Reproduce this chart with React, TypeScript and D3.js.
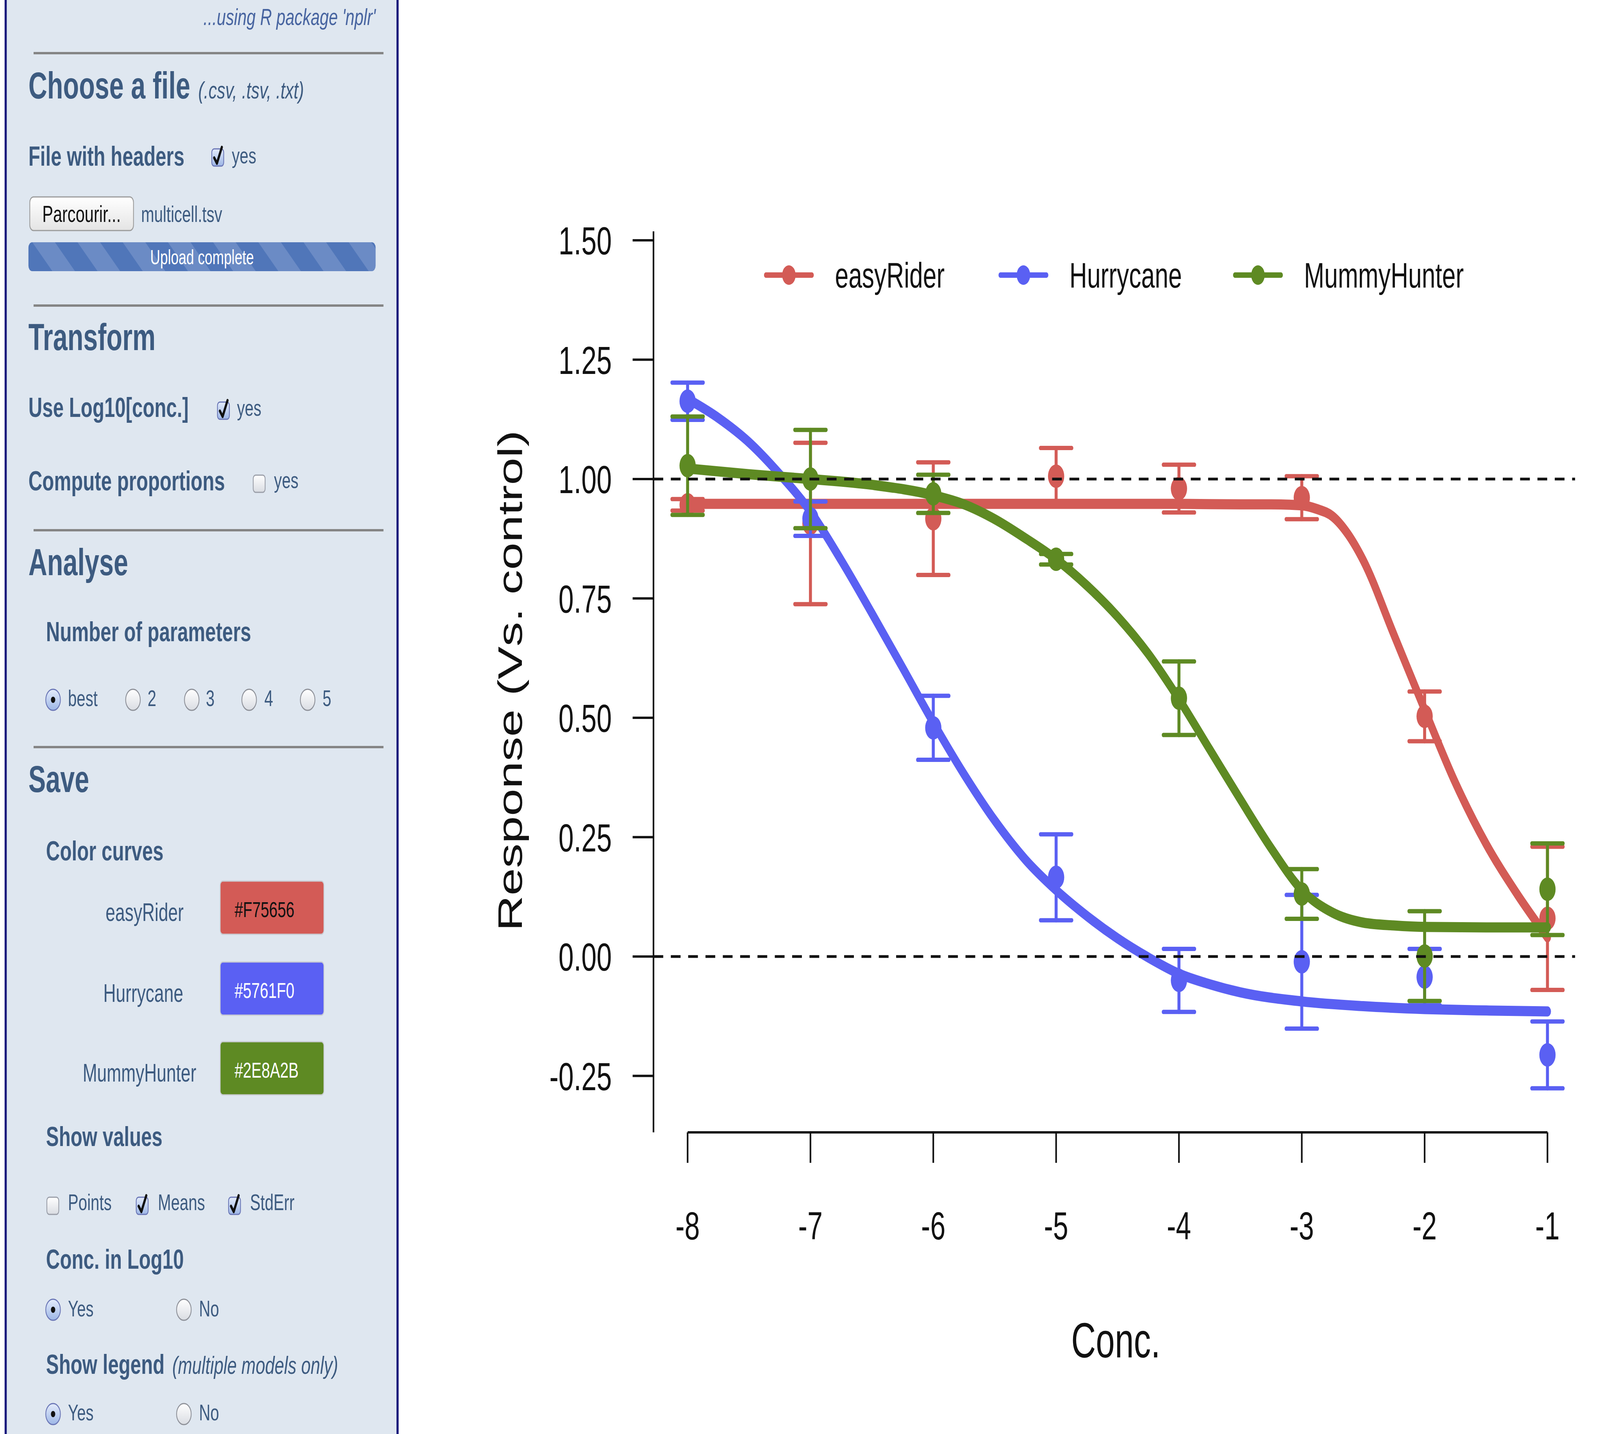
import React from 'react';
import * as d3 from 'd3';

// ---------------- DATA ----------------
const concLevels = [-8, -7, -6, -5, -4, -3, -2, -1];
const responseTicks = [-0.25, 0, 0.25, 0.5, 0.75, 1.0, 1.25, 1.5];
const referenceLines = [0, 1];
const modelNames = ['easyRider', 'Hurrycane', 'MummyHunter'];
const curveColors = ['#d35b56', '#5a60f3', '#5e8a23'];
const colorCodes = ['#F75656', '#5761F0', '#2E8A2B'];
const colorCodeText = ['#111111', '#ffffff', '#ffffff'];

const easyRiderMeans = [0.946, 0.907, 0.917, 1.006, 0.980, 0.961, 0.503, 0.080];
const easyRiderSE = [0.012, 0.169, 0.118, 0.059, 0.050, 0.045, 0.052, 0.150];
const hurrycaneMeans = [1.163, 0.917, 0.479, 0.166, -0.050, -0.011, -0.043, -0.206];
const hurrycaneSE = [0.039, 0.036, 0.067, 0.090, 0.066, 0.140, 0.059, 0.070];
const mummyHunterMeans = [1.028, 1.000, 0.969, 0.832, 0.541, 0.131, 0.001, 0.141];
const mummyHunterSE = [0.103, 0.103, 0.040, 0.011, 0.077, 0.052, 0.094, 0.096];

const easyRiderFitX = [-8, -7.5, -7, -6.5, -6, -5.5, -5, -4.5, -4, -3.5, -3.25, -3, -2.875, -2.75, -2.625, -2.5, -2.25, -2, -1.75, -1.5, -1.25, -1];
const easyRiderFitY = [0.948, 0.948, 0.948, 0.948, 0.948, 0.948, 0.948, 0.948, 0.948, 0.947, 0.947, 0.945, 0.937, 0.922, 0.885, 0.830, 0.674, 0.517, 0.364, 0.236, 0.132, 0.040];
const hurrycaneFitX = [-8, -7.75, -7.5, -7.25, -7, -6.75, -6.5, -6.25, -6, -5.75, -5.5, -5.25, -5, -4.75, -4.5, -4.25, -4, -3.75, -3.5, -3, -2.5, -2, -1.5, -1];
const hurrycaneFitY = [1.168, 1.128, 1.077, 1.010, 0.932, 0.830, 0.719, 0.605, 0.490, 0.382, 0.285, 0.203, 0.139, 0.085, 0.038, -0.002, -0.036, -0.058, -0.075, -0.094, -0.104, -0.110, -0.113, -0.115];
const mummyHunterFitX = [-8, -7.5, -7, -6.5, -6, -5.75, -5.5, -5.25, -5, -4.75, -4.5, -4.25, -4, -3.75, -3.5, -3.25, -3, -2.75, -2.5, -2.25, -2, -1.5, -1];
const mummyHunterFitY = [1.022, 1.010, 1.000, 0.988, 0.966, 0.947, 0.916, 0.876, 0.832, 0.777, 0.712, 0.634, 0.539, 0.434, 0.329, 0.227, 0.139, 0.092, 0.071, 0.065, 0.062, 0.061, 0.061];

const nParamOptions = ['best', '2', '3', '4', '5'];
const showValueOptions = ['Points', 'Means', 'StdErr'];
const showValueChecked = [false, true, true];
const yesNoOptions = ['Yes', 'No'];

// ---------------- LAYOUT ----------------
const W = 5908;
const H = 3670;
const FONT = "'Liberation Sans', Arial, Helvetica, sans-serif";
const PANEL_TEXT = '#3d5b80';

const xScale = d3.scaleLinear().domain([-8, -1]).range([2539, 5714]);
const yScale = d3.scaleLinear().domain([0, 1]).range([2448, 1226]);
const plotLeft = 2413;
const plotRight = 5816;
const plotTop = 592;
const plotBottom = 2898;
const fmtY = (v: number) => d3.format('.2f')(v).replace('\u2212', '-');

const series = modelNames.map((name, i) => {
  const means = [easyRiderMeans, hurrycaneMeans, mummyHunterMeans][i];
  const se = [easyRiderSE, hurrycaneSE, mummyHunterSE][i];
  const fx = [easyRiderFitX, hurrycaneFitX, mummyHunterFitX][i];
  const fy = [easyRiderFitY, hurrycaneFitY, mummyHunterFitY][i];
  return {
    name,
    color: curveColors[i],
    points: concLevels.map((c, k) => ({ x: c, m: means[k], s: se[k] })),
    fit: fx.map((xv, k) => [xv, fy[k]] as [number, number]),
  };
});

const lineGen = d3
  .line<[number, number]>()
  .x((d) => xScale(d[0]))
  .y((d) => yScale(d[1]))
  .curve(d3.curveMonotoneX);

function CheckBox({ cx, cy, checked }: { cx: number; cy: number; checked: boolean }) {
  const s = 44;
  return (
    <g>
      <rect
        x={cx - s / 2}
        y={cy - s / 2}
        width={s}
        height={s}
        rx={9}
        fill={checked ? 'url(#ctlOn)' : 'url(#ctlOff)'}
        stroke={checked ? '#6a76b6' : '#9a9ea8'}
        strokeWidth={3}
      />
      {checked && (
        <path
          d={`M${cx - 13},${cy + 1} L${cx - 3},${cy + 15} L${cx + 15},${cy - 26}`}
          fill="none"
          stroke="#111"
          strokeWidth={8}
          strokeLinecap="round"
          strokeLinejoin="round"
        />
      )}
    </g>
  );
}

function Radio({ cx, cy, on }: { cx: number; cy: number; on: boolean }) {
  return (
    <g>
      <circle cx={cx} cy={cy} r={27} fill={on ? 'url(#ctlOn)' : 'url(#ctlOff)'} stroke={on ? '#6a76b6' : '#8e9199'} strokeWidth={3} />
      {on && <circle cx={cx} cy={cy} r={8} fill="#111" />}
    </g>
  );
}

function Panel() {
  const hrYs = [136, 782, 1357, 1912];
  const headStyle = { fontFamily: FONT, fontWeight: 700, fontSize: 96, fill: PANEL_TEXT } as const;
  const labStyle = { fontFamily: FONT, fontWeight: 700, fontSize: 71, fill: PANEL_TEXT } as const;
  const smallStyle = { fontFamily: FONT, fontSize: 58, fill: PANEL_TEXT } as const;
  const radioXs = [196, 491, 708, 920, 1136];
  const radioLabelXs = [251, 545, 760, 976, 1191];
  const cbXs = [195, 525, 866];
  const cbLabelXs = [251, 583, 923];
  const colorLabelCx = [534, 529, 515];
  const boxTops = [2255, 2462, 2666];
  const ynX = [196, 679];
  const ynLabelX = [251, 735];
  return (
    <g>
      <rect x={21} y={-30} width={1447} height={H + 60} fill="#dfe7f0" stroke="#1a1a7c" strokeWidth={8} />
      <text x={1387} y={64} textAnchor="end" fontFamily={FONT} fontStyle="italic" fontSize={60} fill="#4764a0">
        ...using R package 'nplr'
      </text>
      {hrYs.map((y) => (
        <line key={y} x1={124} x2={1416} y1={y} y2={y} stroke="#858585" strokeWidth={6} />
      ))}
      <text x={105} y={252} {...headStyle}>
        Choose a file
      </text>
      <text x={732} y={252} fontFamily={FONT} fontStyle="italic" fontSize={62} fill={PANEL_TEXT}>
        (.csv, .tsv, .txt)
      </text>
      <text x={105} y={424} {...labStyle}>
        File with headers
      </text>
      <CheckBox cx={804} cy={403} checked={true} />
      <text x={856} y={418} {...smallStyle}>
        yes
      </text>
      <rect x={110} y={504} width={383} height={86} rx={14} fill="url(#btnGrad)" stroke="#9c9c9c" strokeWidth={3} />
      <text x={301} y={568} textAnchor="middle" fontFamily={FONT} fontSize={60} fill="#111">
        Parcourir...
      </text>
      <text x={521} y={568} {...smallStyle}>
        multicell.tsv
      </text>
      <rect x={105} y={620} width={1282} height={74} rx={14} fill="url(#stripes)" />
      <text x={746} y={676} textAnchor="middle" fontFamily={FONT} fontSize={51} fill="#ffffff">
        Upload complete
      </text>
      <text x={105} y={896} {...headStyle}>
        Transform
      </text>
      <text x={105} y={1067} {...labStyle}>
        Use Log10[conc.]
      </text>
      <CheckBox cx={825} cy={1051} checked={true} />
      <text x={875} y={1064} {...smallStyle}>
        yes
      </text>
      <text x={105} y={1255} {...labStyle}>
        Compute proportions
      </text>
      <CheckBox cx={957} cy={1238} checked={false} />
      <text x={1012} y={1249} {...smallStyle}>
        yes
      </text>
      <text x={105} y={1472} {...headStyle}>
        Analyse
      </text>
      <text x={170} y={1641} {...labStyle}>
        Number of parameters
      </text>
      {nParamOptions.map((o, i) => (
        <g key={o}>
          <Radio cx={radioXs[i]} cy={1791} on={i === 0} />
          <text x={radioLabelXs[i]} y={1807} {...smallStyle}>
            {o}
          </text>
        </g>
      ))}
      <text x={105} y={2027} {...headStyle}>
        Save
      </text>
      <text x={170} y={2202} {...labStyle}>
        Color curves
      </text>
      {modelNames.map((m, i) => (
        <g key={m}>
          <text x={colorLabelCx[i]} y={boxTops[i] + 102} textAnchor="middle" fontFamily={FONT} fontSize={64} fill={PANEL_TEXT}>
            {m}
          </text>
          <rect x={813} y={boxTops[i]} width={383} height={136} rx={10} fill={curveColors[i]} stroke="#c9ccd2" strokeWidth={3} />
          <text x={866} y={boxTops[i] + 92} fontFamily={FONT} fontSize={56} fill={colorCodeText[i]}>
            {colorCodes[i]}
          </text>
        </g>
      ))}
      <text x={170} y={2933} {...labStyle}>
        Show values
      </text>
      {showValueOptions.map((o, i) => (
        <g key={o}>
          <CheckBox cx={cbXs[i]} cy={3086} checked={showValueChecked[i]} />
          <text x={cbLabelXs[i]} y={3097} {...smallStyle}>
            {o}
          </text>
        </g>
      ))}
      <text x={170} y={3247} {...labStyle}>
        Conc. in Log10
      </text>
      {yesNoOptions.map((o, i) => (
        <g key={'c' + o}>
          <Radio cx={ynX[i]} cy={3352} on={i === 0} />
          <text x={ynLabelX[i]} y={3369} {...smallStyle}>
            {o}
          </text>
        </g>
      ))}
      <text x={170} y={3516} {...labStyle}>
        Show legend
      </text>
      <text x={636} y={3516} fontFamily={FONT} fontStyle="italic" fontSize={63} fill={PANEL_TEXT}>
        (multiple models only)
      </text>
      {yesNoOptions.map((o, i) => (
        <g key={'l' + o}>
          <Radio cx={ynX[i]} cy={3619} on={i === 0} />
          <text x={ynLabelX[i]} y={3635} {...smallStyle}>
            {o}
          </text>
        </g>
      ))}
    </g>
  );
}

function Chart() {
  const legendX0 = 2828;
  const legendStep = 866;
  const legendY = 704;
  return (
    <g fontFamily={FONT}>
      {/* axes */}
      <line x1={plotLeft} x2={plotLeft} y1={plotTop} y2={plotBottom} stroke="#111" strokeWidth={6} />
      {responseTicks.map((t) => (
        <g key={t}>
          <line x1={plotLeft - 77} x2={plotLeft} y1={yScale(t)} y2={yScale(t)} stroke="#111" strokeWidth={6} />
          <text x={2259} y={yScale(t)} dy="0.36em" textAnchor="end" fontSize={101} fill="#111">
            {fmtY(t)}
          </text>
        </g>
      ))}
      <line x1={xScale(concLevels[0])} x2={xScale(concLevels[concLevels.length - 1])} y1={plotBottom} y2={plotBottom} stroke="#111" strokeWidth={6} />
      {concLevels.map((c) => (
        <g key={c}>
          <line x1={xScale(c)} x2={xScale(c)} y1={plotBottom} y2={plotBottom + 78} stroke="#111" strokeWidth={6} />
          <text x={xScale(c)} y={3172} textAnchor="middle" fontSize={101} fill="#111">
            {String(c)}
          </text>
        </g>
      ))}
      <text x={4120} y={3474} textAnchor="middle" fontSize={126} fill="#111">
        Conc.
      </text>
      <text transform="translate(1927,1742) rotate(-90)" textAnchor="middle" fontSize={126} fill="#111">
        Response (Vs. control)
      </text>

      {/* series */}
      {series.map((s) => (
        <g key={s.name}>
          {s.points.map((p) => (
            <g key={p.x} stroke={s.color} strokeWidth={11} strokeLinecap="round">
              <line x1={xScale(p.x)} x2={xScale(p.x)} y1={yScale(p.m - p.s)} y2={yScale(p.m + p.s)} />
              <line x1={xScale(p.x) - 58} x2={xScale(p.x) + 58} y1={yScale(p.m + p.s)} y2={yScale(p.m + p.s)} />
              <line x1={xScale(p.x) - 58} x2={xScale(p.x) + 58} y1={yScale(p.m - p.s)} y2={yScale(p.m - p.s)} />
            </g>
          ))}
          {s.points.map((p) => (
            <circle key={'p' + p.x} cx={xScale(p.x)} cy={yScale(p.m)} r={30} fill={s.color} />
          ))}
          <path d={lineGen(s.fit) || ''} fill="none" stroke={s.color} strokeWidth={26} strokeLinecap="round" strokeLinejoin="round" />
        </g>
      ))}

      {/* reference dashed lines */}
      {referenceLines.map((r) => (
        <line key={r} x1={plotLeft} x2={plotRight} y1={yScale(r)} y2={yScale(r)} stroke="#111" strokeWidth={7} strokeDasharray="36 28" />
      ))}

      {/* legend */}
      {series.map((s, i) => {
        const lx = legendX0 + i * legendStep;
        return (
          <g key={'lg' + s.name}>
            <line x1={lx} x2={lx + 170} y1={legendY} y2={legendY} stroke={s.color} strokeWidth={14} strokeLinecap="round" />
            <circle cx={lx + 85} cy={legendY} r={25} fill={s.color} />
            <text x={lx + 255} y={legendY + 32} fontSize={90} fill="#111">
              {s.name}
            </text>
          </g>
        );
      })}
    </g>
  );
}

export default function App() {
  return (
    <svg
      viewBox={`0 0 ${W} ${H}`}
      preserveAspectRatio="none"
      style={{ position: 'fixed', left: 0, top: 0, width: '100vw', height: '100vh', display: 'block', background: '#ffffff' }}
    >
      <defs>
        <linearGradient id="ctlOff" x1="0" y1="0" x2="0" y2="1">
          <stop offset="0" stopColor="#ffffff" />
          <stop offset="1" stopColor="#d9dce2" />
        </linearGradient>
        <linearGradient id="ctlOn" x1="0" y1="0" x2="0" y2="1">
          <stop offset="0" stopColor="#e4ecfb" />
          <stop offset="1" stopColor="#9db6e6" />
        </linearGradient>
        <linearGradient id="btnGrad" x1="0" y1="0" x2="0" y2="1">
          <stop offset="0" stopColor="#ffffff" />
          <stop offset="1" stopColor="#e4e4e4" />
        </linearGradient>
        <pattern id="stripes" width="118" height="118" patternUnits="userSpaceOnUse" patternTransform="rotate(-45)">
          <rect width="118" height="118" fill="#5076b9" />
          <rect width="59" height="118" fill="#6b8bc5" />
        </pattern>
      </defs>
      <rect x={0} y={0} width={W} height={H} fill="#ffffff" />
      <Panel />
      <Chart />
    </svg>
  );
}
